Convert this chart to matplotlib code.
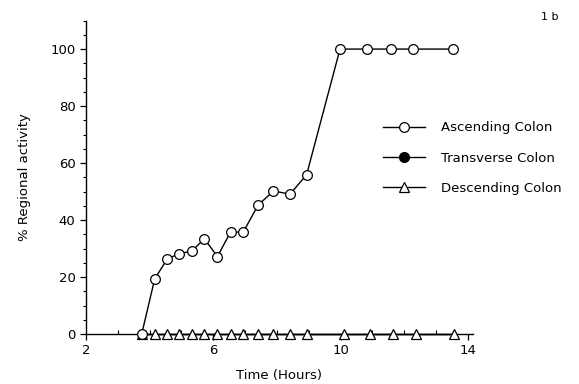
import matplotlib
matplotlib.use("Agg")
import matplotlib.pyplot as plt
from matplotlib.ticker import MultipleLocator
from matplotlib.lines import Line2D

asc_t = [3.75, 4.16, 4.55, 4.92, 5.32, 5.72, 6.13, 6.54, 6.94, 7.41, 7.89, 8.41, 8.93,
         9.98, 10.84, 11.59, 12.27, 13.52]
asc_v = [0, 19.4, 26.3, 28.2, 29.1, 33.4, 27.2, 35.8, 35.8, 45.3, 50.2, 49.1, 55.9,
         100, 100, 100, 100, 100]
desc_t = [3.75, 4.16, 4.55, 4.92, 5.32, 5.72, 6.13, 6.54, 6.94, 7.41, 7.89, 8.41, 8.93,
          10.09, 10.91, 11.66, 12.36, 13.57]
desc_v = [0] * len(desc_t)
trans_t = [3.75, 4.16, 4.55, 4.92, 5.32, 5.72, 6.13, 6.54, 6.94, 7.41, 7.89, 8.41, 8.93,
           10.09, 10.91, 11.66, 12.36, 13.57]
trans_v = [0] * len(trans_t)

xticks = [2, 6, 10, 14]
yticks = [0, 20, 40, 60, 80, 100]
labels = ["Ascending Colon", "Transverse Colon", "Descending Colon"]

plt.rcParams['font.family'] = ['DejaVu Sans']
fig = plt.figure(figsize=(5.79, 3.84), dpi=100)
ax = fig.add_axes([0.1485, 0.130, 0.668, 0.8164])

ax.plot(trans_t, trans_v, color='black', lw=1.0, marker='o', ms=2.5,
        markerfacecolor='black', zorder=2, clip_on=False)
ax.plot(desc_t, desc_v, color='black', lw=1.0, marker='^', ms=6.5,
        markerfacecolor='white', markeredgecolor='black', mew=0.9, zorder=3, clip_on=False)
ax.plot(asc_t, asc_v, color='black', lw=1.0, marker='o', ms=7,
        markerfacecolor='white', markeredgecolor='black', mew=0.9, zorder=4, clip_on=False)

ax.set_xlim(2, 14.15)
ax.set_ylim(0, 110)
for s in ['top', 'right']:
    ax.spines[s].set_visible(False)
for s in ['left', 'bottom']:
    ax.spines[s].set_linewidth(1.0)

ax.set_xticks(xticks)
ax.set_yticks(yticks)
ax.xaxis.set_minor_locator(MultipleLocator(1))
ax.yaxis.set_minor_locator(MultipleLocator(5))
ax.tick_params(axis='both', which='major', direction='out', length=4, width=0.9,
               labelsize=9.5, colors='black')
ax.tick_params(axis='x', which='minor', direction='in', length=3, width=0.8)
ax.tick_params(axis='y', which='minor', direction='out', length=2.5, width=0.8)

ax.set_xlabel("Time (Hours)", fontsize=9.5, labelpad=8)
ax.set_ylabel("% Regional activity", fontsize=9.5, labelpad=14)

handles = [
    Line2D([], [], color='black', lw=1.0, marker='o', ms=7, markerfacecolor='white', mew=0.9),
    Line2D([], [], color='black', lw=1.0, marker='o', ms=7, markerfacecolor='black'),
    Line2D([], [], color='black', lw=1.0, marker='^', ms=6.5, markerfacecolor='white', mew=0.9),
]
leg = ax.legend(handles, labels, loc='upper left', bbox_to_anchor=(0.755, 0.695),
                frameon=False, fontsize=9.5, handlelength=3.2, handletextpad=1.2,
                labelspacing=1.3, borderaxespad=0)

fig.text(0.965, 0.955, "1 b", fontsize=8, ha='right', va='center')

fig.savefig("out.png", dpi=100)
